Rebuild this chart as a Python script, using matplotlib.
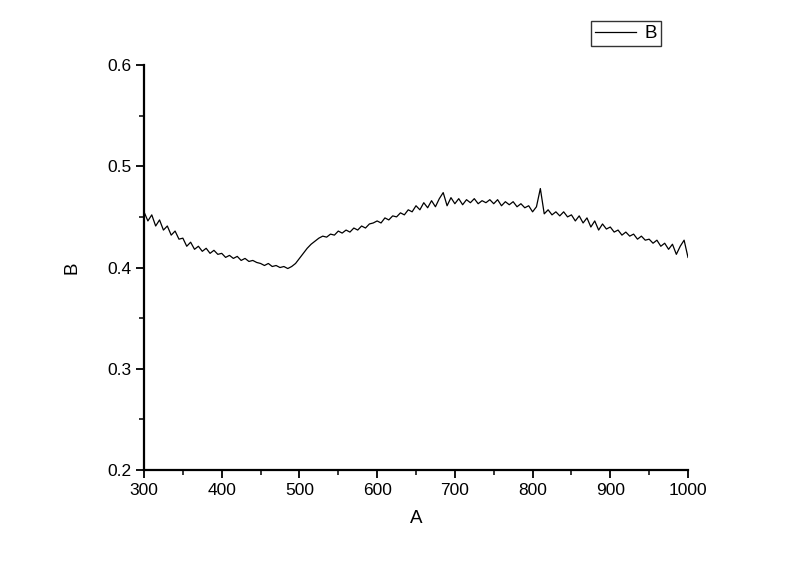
import numpy as np
import matplotlib
matplotlib.use("Agg")
import matplotlib.pyplot as plt
from matplotlib.ticker import MultipleLocator, FormatStrFormatter

# wavelength grid (5 nm steps, 300..1000)
wavelength = list(range(300, 1001, 5))

values = [
    # 300-345
    0.455, 0.446, 0.452, 0.441, 0.447, 0.437, 0.441, 0.432, 0.436, 0.428,
    # 350-395
    0.429, 0.421, 0.425, 0.418, 0.421, 0.416, 0.419, 0.414, 0.417, 0.413,
    # 400-445
    0.414, 0.410, 0.412, 0.409, 0.411, 0.407, 0.409, 0.406, 0.407, 0.405,
    # 450-495
    0.404, 0.402, 0.404, 0.401, 0.402, 0.400, 0.401, 0.399, 0.401, 0.404,
    # 500-545
    0.409, 0.414, 0.419, 0.423, 0.426, 0.429, 0.431, 0.430, 0.433, 0.432,
    # 550-595
    0.436, 0.434, 0.437, 0.435, 0.439, 0.437, 0.441, 0.439, 0.443, 0.444,
    # 600-645
    0.446, 0.444, 0.449, 0.447, 0.451, 0.450, 0.454, 0.452, 0.457, 0.455,
    # 650-695
    0.461, 0.457, 0.464, 0.459, 0.466, 0.460, 0.468, 0.474, 0.461, 0.469,
    # 700-745
    0.463, 0.468, 0.462, 0.467, 0.464, 0.468, 0.463, 0.466, 0.464, 0.467,
    # 750-795
    0.463, 0.467, 0.461, 0.465, 0.462, 0.465, 0.460, 0.463, 0.459, 0.461,
    # 800-845
    0.455, 0.460, 0.478, 0.453, 0.457, 0.452, 0.455, 0.451, 0.455, 0.450,
    # 850-895
    0.452, 0.446, 0.451, 0.444, 0.449, 0.440, 0.446, 0.437, 0.443, 0.438,
    # 900-945
    0.440, 0.435, 0.437, 0.432, 0.435, 0.431, 0.433, 0.428, 0.431, 0.427,
    # 950-995
    0.428, 0.424, 0.427, 0.421, 0.424, 0.418, 0.423, 0.413, 0.421, 0.427,
    # 1000
    0.410,
]

x_label = "A"
y_label = "B"
series_name = "B"

plt.rcParams['font.family'] = ['Liberation Sans', 'DejaVu Sans']

fig = plt.figure(figsize=(8, 5.65), dpi=100)
ax = fig.add_axes([0.18, 0.168, 0.68, 0.717])

line, = ax.plot(wavelength, values, color='black', lw=0.9, label=series_name)

ax.set_xlim(300, 1000)
ax.set_ylim(0.2, 0.6)
ax.xaxis.set_major_locator(MultipleLocator(100))
ax.xaxis.set_minor_locator(MultipleLocator(50))
ax.yaxis.set_major_locator(MultipleLocator(0.1))
ax.yaxis.set_minor_locator(MultipleLocator(0.05))
ax.yaxis.set_major_formatter(FormatStrFormatter('%.1f'))

for s in ['top', 'right']:
    ax.spines[s].set_visible(False)
for s in ['left', 'bottom']:
    ax.spines[s].set_linewidth(1.6)

ax.tick_params(which='major', direction='out', length=6, width=1.3, labelsize=12.5, pad=3)
ax.tick_params(which='minor', direction='out', length=3.5, width=1.1)

ax.set_xlabel(x_label, fontsize=13.5, labelpad=9)
ax.set_ylabel(y_label, fontsize=13.5, labelpad=19)

leg = fig.legend(handles=[line], loc='upper right', bbox_to_anchor=(0.826, 0.962),
                 frameon=True, fancybox=False, shadow=False, fontsize=13.5,
                 handlelength=2.2, handletextpad=0.45, borderpad=0.2, borderaxespad=0)
leg.get_frame().set_edgecolor('black')
leg.get_frame().set_linewidth(1.0)

fig.savefig("out.png", dpi=100)
